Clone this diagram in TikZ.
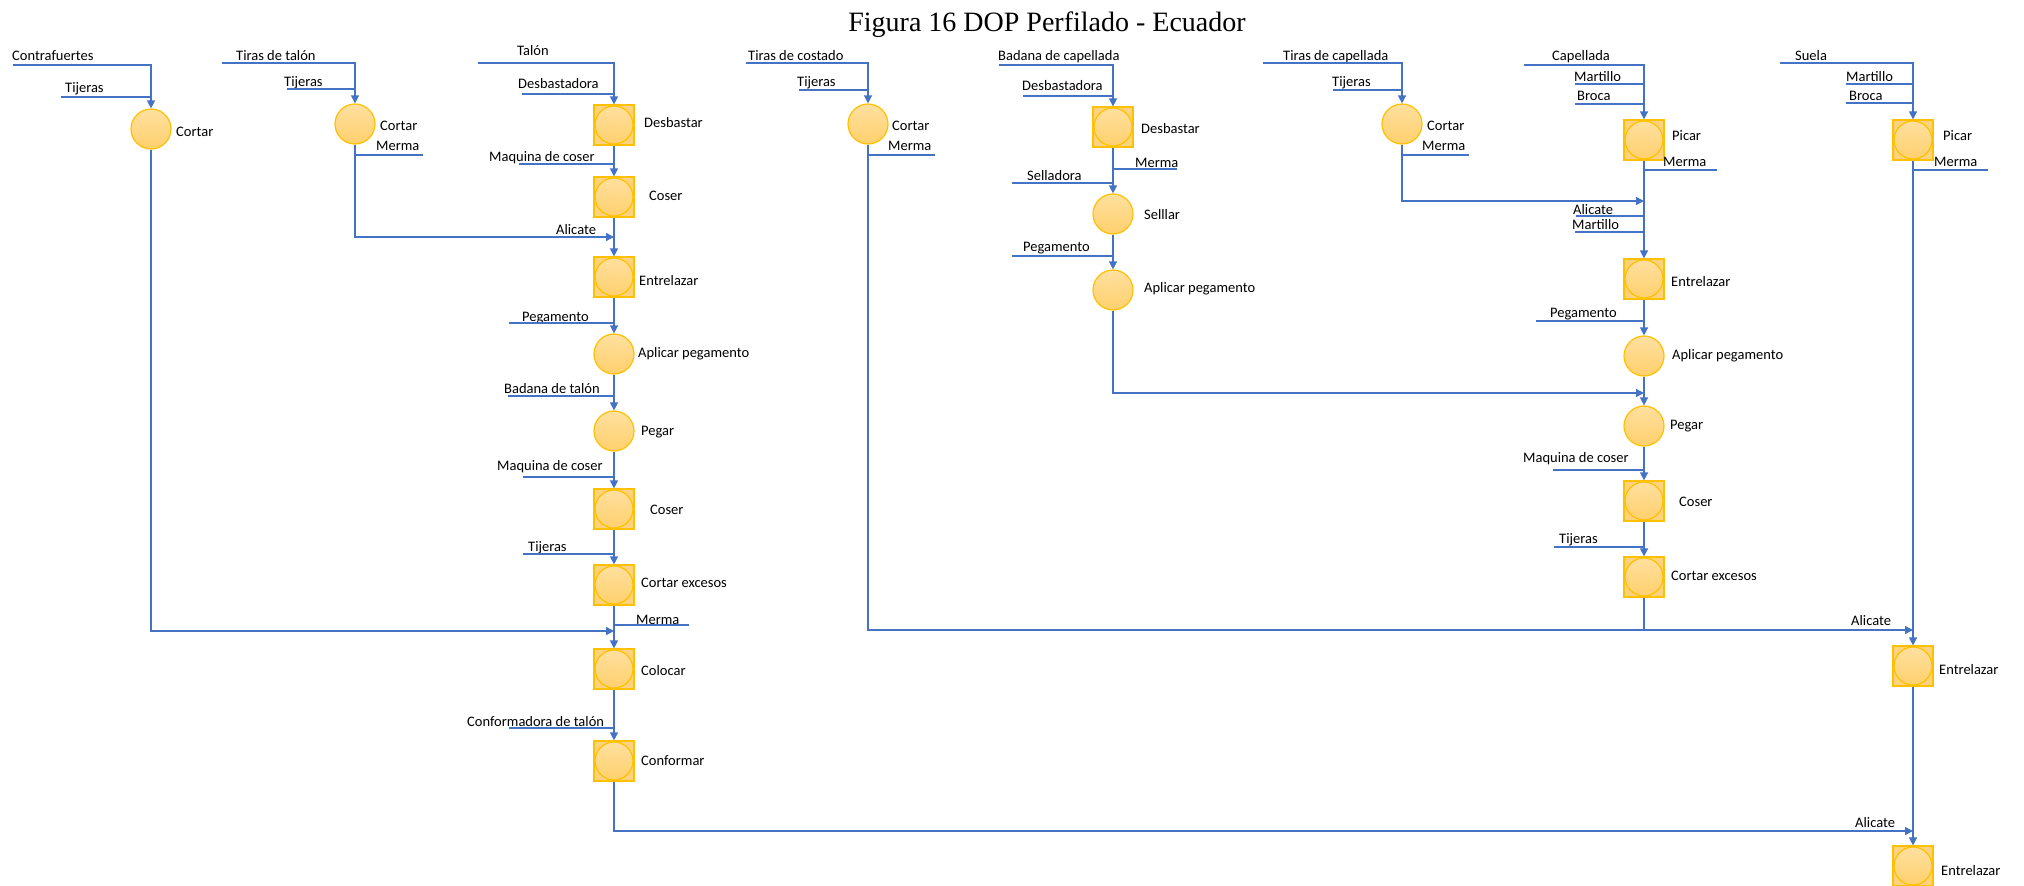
\documentclass[tikz,border=0pt]{standalone}
\usepackage{fontspec}
\setmainfont{Carlito}
\newfontfamily\titlefont{Liberation Serif}
\usetikzlibrary{arrows.meta}

\definecolor{flow}{HTML}{4472C4}
\definecolor{gold}{HTML}{FFC000}
\definecolor{goldfill}{HTML}{FFD37D}
\definecolor{goldtop}{HTML}{FFE0A0}
\definecolor{goldbot}{HTML}{FFD06C}

\tikzset{
  flowline/.style={draw=flow, line width=1.4pt},
  flowarrow/.style={flowline, -{Triangle[length=8pt,width=8pt]}},
  opcirc/.style={circle, minimum size=40pt, inner sep=0pt, draw=gold, line width=1.2pt,
    top color=goldtop, bottom color=goldbot},
  opbox/.style={rectangle, minimum size=40pt, inner sep=0pt, draw=gold, line width=1.2pt, fill=goldfill,
    path picture={
      \shade[top color=goldtop, bottom color=goldbot] (path picture bounding box.center) circle (19pt);
      \draw[gold, line width=1.2pt] (path picture bounding box.center) circle (19pt);}},
  lbl/.style={anchor=west, inner sep=0pt, font=\fontsize{14.5}{16}\selectfont,
    text height=10pt, text depth=3pt},
}

\begin{document}
\begin{tikzpicture}[x=1pt, y=-1pt]
\useasboundingbox (0,0) rectangle (2024,886);

% title
\node[anchor=base, inner sep=0pt] (title) at (1047,31)
  {\titlefont\fontsize{28}{30}\selectfont Figura 16 DOP Perfilado - Ecuador};

% ---------- Contrafuertes ----------
\node[opcirc] (cortA) at (151,129) {};
\node[lbl] (cortAl) at (176,133) {Cortar};
\coordinate (inA) at (13,65);
\node[lbl] (contraf) at (12,57) {Contrafuertes};
\coordinate (tijA) at (61,97);
\node[lbl] (tijAl) at (65,89) {Tijeras};
\draw[flowarrow] (inA) -| (cortA.north);
\draw[flowline] (tijA) -- (tijA -| cortA);

% ---------- Tiras de talón ----------
\node[opcirc] (cortB) at (355,124) {};
\node[lbl] (cortBl) at (380,127) {Cortar};
\coordinate (inB) at (222,63);
\node[lbl] (tirasT) at (236,57) {Tiras de talón};
\coordinate (tijB) at (287,89);
\node[lbl] (tijBl) at (284,83) {Tijeras};
\coordinate (mermaB) at (423,155);
\node[lbl] (mermaBl) at (376,147) {Merma};
\draw[flowarrow] (inB) -| (cortB.north);
\draw[flowline] (tijB) -- (tijB -| cortB);
\draw[flowline] (cortB |- mermaB) -- (mermaB);

% ---------- Talón ----------
\node[opbox]  (T1) at (614,125) {};
\node[opbox]  (T2) at (614,197) {};
\node[opbox]  (T3) at (614,277) {};
\node[opcirc] (T4) at (614,354) {};
\node[opcirc] (T5) at (614,431) {};
\node[opbox]  (T6) at (614,509) {};
\node[opbox]  (T7) at (614,585) {};
\node[opbox]  (T8) at (614,669) {};
\node[opbox]  (T9) at (614,761) {};
\node[lbl] (T1l) at (644,124) {Desbastar};
\node[lbl] (T2l) at (649,197) {Coser};
\node[lbl] (T3l) at (639,282) {Entrelazar};
\node[lbl] (T4l) at (638,354) {Aplicar pegamento};
\node[lbl] (T5l) at (641,432) {Pegar};
\node[lbl] (T6l) at (650,511) {Coser};
\node[lbl] (T7l) at (641,584) {Cortar excesos};
\node[lbl] (T8l) at (641,672) {Colocar};
\node[lbl] (T9l) at (641,762) {Conformar};

\coordinate (inT) at (478,63);
\node[lbl] (talonl) at (517,52) {Talón};
\coordinate (desbT) at (522,94);
\node[lbl] (desbTl) at (518,85) {Desbastadora};
\coordinate (maqT1) at (519,164);
\node[lbl] (maqT1l) at (489,158) {Maquina de coser};
\coordinate (jB) at (614,237);
\node[lbl] (aliT) at (556,231) {Alicate};
\coordinate (pegT) at (509,323);
\node[lbl] (pegTl) at (522,318) {Pegamento};
\coordinate (badT) at (508,396);
\node[lbl] (badTl) at (504,390) {Badana de talón};
\coordinate (maqT2) at (523,477);
\node[lbl] (maqT2l) at (497,467) {Maquina de coser};
\coordinate (tijT) at (523,554);
\node[lbl] (tijTl) at (528,548) {Tijeras};
\coordinate (mermaT) at (689,625);
\node[lbl] (mermaTl) at (636,621) {Merma};
\coordinate (jA) at (614,631);
\coordinate (confT) at (509,728);
\node[lbl] (confTl) at (467,723) {Conformadora de talón};

\draw[flowarrow] (inT) -| (T1.north);
\draw[flowline] (desbT) -- (desbT -| T1);
\draw[flowarrow] (T1.south) -- (T2.north);
\draw[flowline] (maqT1) -- (maqT1 -| T1);
\draw[flowarrow] (T2.south) -- (T3.north);
\draw[flowarrow] (cortB.south) |- (jB);
\draw[flowarrow] (T3.south) -- (T4.north);
\draw[flowline] (pegT) -- (pegT -| T3);
\draw[flowarrow] (T4.south) -- (T5.north);
\draw[flowline] (badT) -- (badT -| T4);
\draw[flowarrow] (T5.south) -- (T6.north);
\draw[flowline] (maqT2) -- (maqT2 -| T5);
\draw[flowarrow] (T6.south) -- (T7.north);
\draw[flowline] (tijT) -- (tijT -| T6);
\draw[flowarrow] (T7.south) -- (T8.north);
\draw[flowline] (T7 |- mermaT) -- (mermaT);
\draw[flowarrow] (cortA.south) |- (jA);
\draw[flowarrow] (T8.south) -- (T9.north);
\draw[flowline] (confT) -- (confT -| T8);

% ---------- Tiras de costado ----------
\node[opcirc] (C1) at (868,124) {};
\node[lbl] (C1l) at (892,127) {Cortar};
\coordinate (inC) at (746,63);
\node[lbl] (tirasC) at (748,57) {Tiras de costado};
\coordinate (tijC) at (799,90);
\node[lbl] (tijCl) at (797,83) {Tijeras};
\coordinate (mermaC) at (935,155);
\node[lbl] (mermaCl) at (888,147) {Merma};
\draw[flowarrow] (inC) -| (C1.north);
\draw[flowline] (tijC) -- (tijC -| C1);
\draw[flowline] (C1 |- mermaC) -- (mermaC);

% ---------- Badana de capellada ----------
\node[opbox]  (D1) at (1113,127) {};
\node[opcirc] (D2) at (1113,214) {};
\node[opcirc] (D3) at (1113,290) {};
\node[lbl] (D1l) at (1141,130) {Desbastar};
\node[lbl] (D2l) at (1144,216) {Selllar};
\node[lbl] (D3l) at (1144,289) {Aplicar pegamento};
\coordinate (inD) at (999,65);
\node[lbl] (badC) at (998,57) {Badana de capellada};
\coordinate (desbD) at (1023,96);
\node[lbl] (desbDl) at (1022,87) {Desbastadora};
\coordinate (mermaD) at (1177,169);
\node[lbl] (mermaDl) at (1135,164) {Merma};
\coordinate (sellD) at (1012,183);
\node[lbl] (sellDl) at (1027,177) {Selladora};
\coordinate (pegD) at (1012,256);
\node[lbl] (pegDl) at (1023,248) {Pegamento};
\draw[flowarrow] (inD) -| (D1.north);
\draw[flowline] (desbD) -- (desbD -| D1);
\draw[flowarrow] (D1.south) -- (D2.north);
\draw[flowline] (D1 |- mermaD) -- (mermaD);
\draw[flowline] (sellD) -- (sellD -| D1);
\draw[flowarrow] (D2.south) -- (D3.north);
\draw[flowline] (pegD) -- (pegD -| D2);

% ---------- Tiras de capellada ----------
\node[opcirc] (E1) at (1402,124) {};
\node[lbl] (E1l) at (1427,127) {Cortar};
\coordinate (inE) at (1263,63);
\node[lbl] (tirasE) at (1283,57) {Tiras de capellada};
\coordinate (tijE) at (1333,90);
\node[lbl] (tijEl) at (1332,83) {Tijeras};
\coordinate (mermaE) at (1469,155);
\node[lbl] (mermaEl) at (1422,147) {Merma};
\draw[flowarrow] (inE) -| (E1.north);
\draw[flowline] (tijE) -- (tijE -| E1);
\draw[flowline] (E1 |- mermaE) -- (mermaE);

% ---------- Capellada ----------
\node[opbox]  (P1) at (1644,140) {};
\node[opbox]  (P2) at (1644,279) {};
\node[opcirc] (P3) at (1644,356) {};
\node[opcirc] (P4) at (1644,426) {};
\node[opbox]  (P5) at (1644,501) {};
\node[opbox]  (P6) at (1644,577) {};
\node[lbl] (P1l) at (1672,137) {Picar};
\node[lbl] (P2l) at (1671,283) {Entrelazar};
\node[lbl] (P3l) at (1672,356) {Aplicar pegamento};
\node[lbl] (P4l) at (1670,426) {Pegar};
\node[lbl] (P5l) at (1679,503) {Coser};
\node[lbl] (P6l) at (1671,577) {Cortar excesos};
\coordinate (inP) at (1524,65);
\node[lbl] (capl) at (1552,57) {Capellada};
\coordinate (marP1) at (1575,84);
\node[lbl] (marP1l) at (1574,78) {Martillo};
\coordinate (broP) at (1575,104);
\node[lbl] (broPl) at (1577,97) {Broca};
\coordinate (mermaP) at (1717,170);
\node[lbl] (mermaPl) at (1663,163) {Merma};
\coordinate (jE) at (1644,201);
\coordinate (aliP) at (1576,216);
\node[lbl] (aliPl) at (1573,211) {Alicate};
\coordinate (marP2) at (1575,232);
\node[lbl] (marP2l) at (1572,226) {Martillo};
\coordinate (pegP) at (1536,321);
\node[lbl] (pegPl) at (1550,314) {Pegamento};
\coordinate (jD) at (1644,393);
\coordinate (maqP) at (1553,470);
\node[lbl] (maqPl) at (1523,459) {Maquina de coser};
\coordinate (tijP) at (1554,547);
\node[lbl] (tijPl) at (1559,540) {Tijeras};

\draw[flowarrow] (inP) -| (P1.north);
\draw[flowline] (marP1) -- (marP1 -| P1);
\draw[flowline] (broP) -- (broP -| P1);
\draw[flowline] (P1 |- mermaP) -- (mermaP);
\draw[flowarrow] (E1.south) |- (jE);
\draw[flowline] (aliP) -- (aliP -| P1);
\draw[flowline] (marP2) -- (marP2 -| P1);
\draw[flowarrow] (P1.south) -- (P2.north);
\draw[flowarrow] (P2.south) -- (P3.north);
\draw[flowline] (pegP) -- (pegP -| P2);
\draw[flowarrow] (D3.south) |- (jD);
\draw[flowarrow] (P3.south) -- (P4.north);
\draw[flowarrow] (P4.south) -- (P5.north);
\draw[flowline] (maqP) -- (maqP -| P4);
\draw[flowarrow] (P5.south) -- (P6.north);
\draw[flowline] (tijP) -- (tijP -| P5);

% ---------- Suela ----------
\node[opbox] (S1) at (1913,140) {};
\node[opbox] (S2) at (1913,666) {};
\node[opbox] (S3) at (1913,866) {};
\node[lbl] (S1l) at (1943,137) {Picar};
\node[lbl] (S2l) at (1939,671) {Entrelazar};
\node[lbl] (S3l) at (1941,872) {Entrelazar};
\coordinate (inS) at (1780,63);
\node[lbl] (suelal) at (1795,57) {Suela};
\coordinate (marS) at (1846,84);
\node[lbl] (marSl) at (1846,78) {Martillo};
\coordinate (broS) at (1846,103);
\node[lbl] (broSl) at (1849,97) {Broca};
\coordinate (mermaS) at (1988,170);
\node[lbl] (mermaSl) at (1934,163) {Merma};
\coordinate (jC) at (1913,630);
\node[lbl] (aliS1) at (1851,622) {Alicate};
\coordinate (jT) at (1913,831);
\node[lbl] (aliS2) at (1855,824) {Alicate};

\draw[flowarrow] (inS) -| (S1.north);
\draw[flowline] (marS) -- (marS -| S1);
\draw[flowline] (broS) -- (broS -| S1);
\draw[flowline] (S1 |- mermaS) -- (mermaS);
\draw[flowarrow] (S1.south) -- (S2.north);
\draw[flowarrow] (C1.south) |- (jC);
\draw[flowline] (P6.south) -- (P6 |- jC);
\draw[flowarrow] (S2.south) -- (S3.north);
\draw[flowarrow] (T9.south) |- (jT);
\end{tikzpicture}
\end{document}
